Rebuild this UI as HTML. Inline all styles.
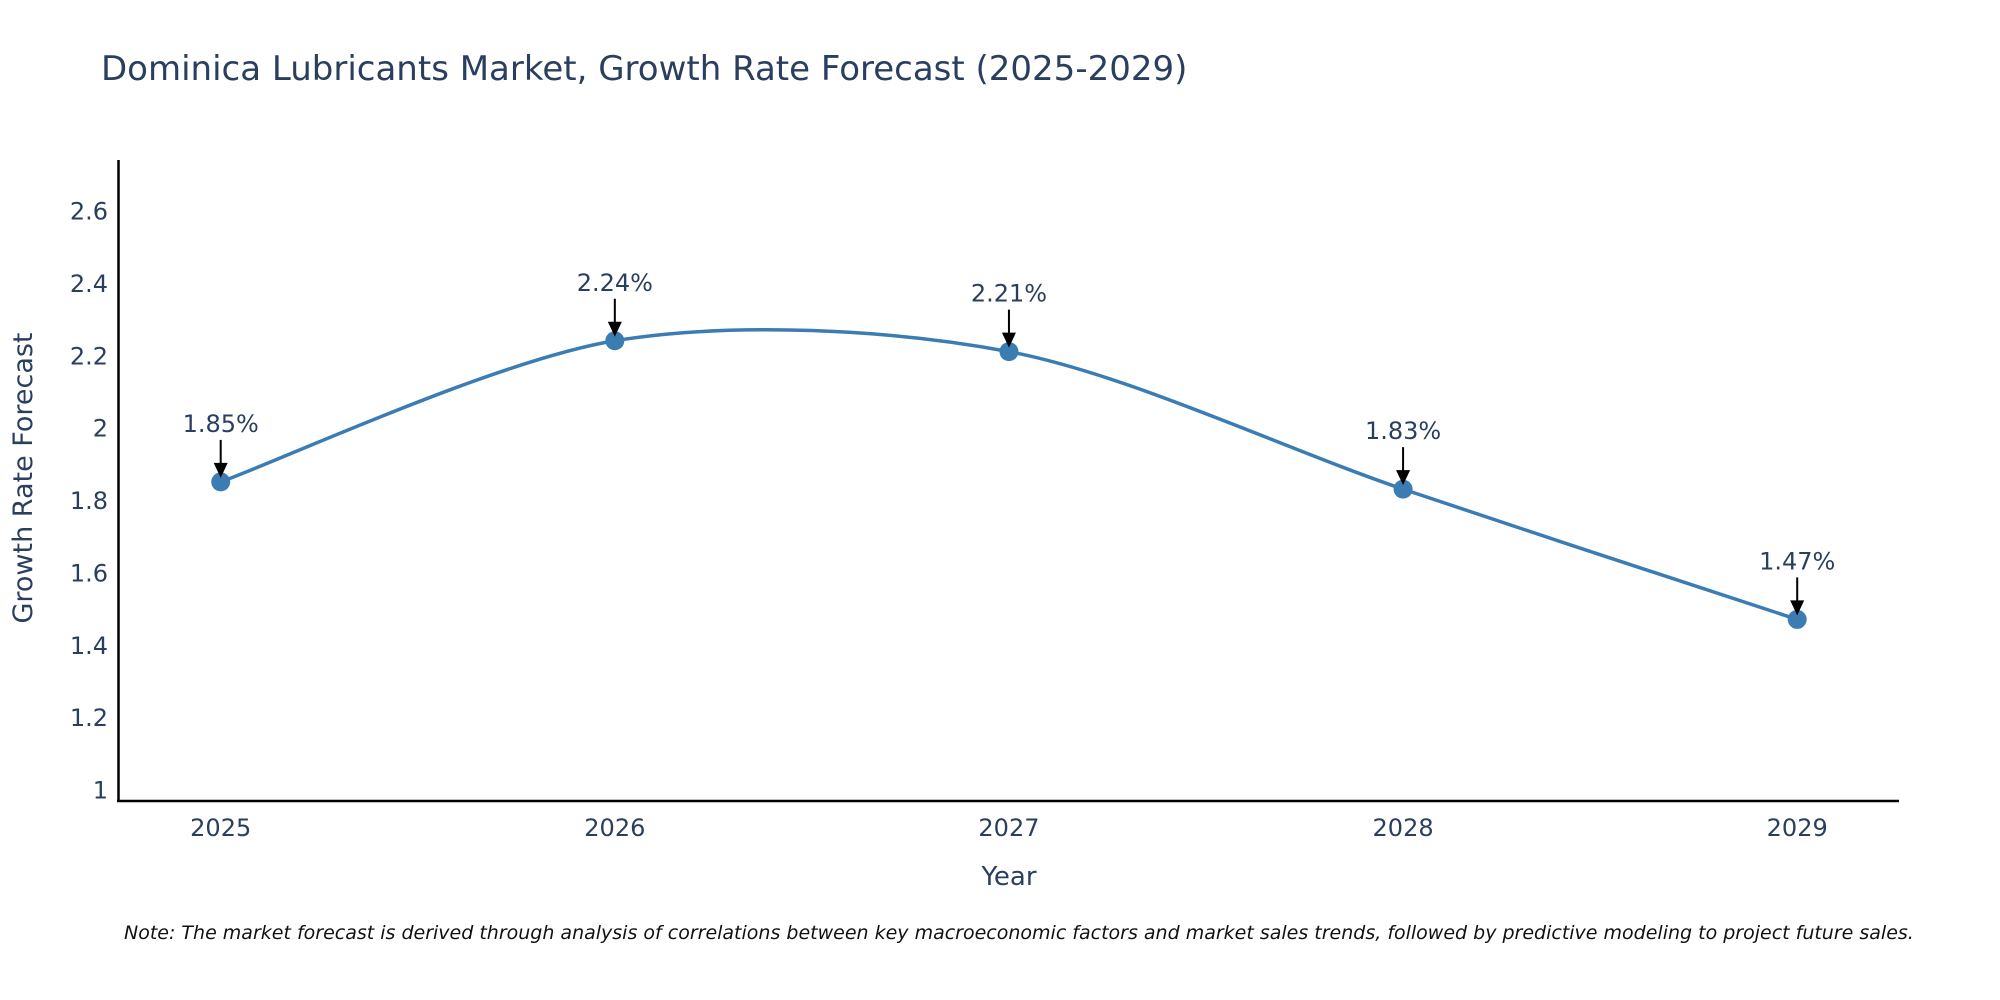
<!DOCTYPE html>
<html><head><meta charset="utf-8">
<style>
html,body{margin:0;padding:0;background:#fff;overflow:hidden;}
svg{display:block;font-family:"DejaVu Sans","Liberation Sans",sans-serif;}
</style></head>
<body>
<svg id="chart" width="2000" height="1000" viewBox="0 0 2000 1000">
<text x="101" y="80" font-size="34" fill="#2a3f5f">Dominica Lubricants Market, Growth Rate Forecast (2025-2029)</text>
<g id="yticks"></g>
<g id="xticks"></g>
<line x1="118.5" y1="160" x2="118.5" y2="802" stroke="#000" stroke-width="2.5"/>
<line x1="117" y1="801" x2="1899" y2="801" stroke="#000" stroke-width="2.5"/>
<path id="line" fill="none" stroke="#3b7db3" stroke-width="3.5"/>
<g id="points"></g>
<g id="annos"></g>
<text x="32" y="478" font-size="27" fill="#2a3f5f" text-anchor="middle" transform="rotate(-90 32 478)">Growth Rate Forecast</text>
<text x="1009" y="885" font-size="26" fill="#2a3f5f" text-anchor="middle">Year</text>
<text x="124" y="939" font-size="19" font-style="italic" fill="#111">Note: The market forecast is derived through analysis of correlations between key macroeconomic factors and market sales trends, followed by predictive modeling to project future sales.</text>
</svg>
<script>
const years = ["2025","2026","2027","2028","2029"];
const values = [1.85, 2.24, 2.21, 1.83, 1.47];
const labels = ["1.85%","2.24%","2.21%","1.83%","1.47%"];
const yTicks = [1, 1.2, 1.4, 1.6, 1.8, 2, 2.2, 2.4, 2.6];
const yTickLabels = ["1","1.2","1.4","1.6","1.8","2","2.2","2.4","2.6"];

const NS = "http://www.w3.org/2000/svg";
function yScale(v){ return 789.5 - (v - 1) * (789.5 - 210.5) / 1.6; }
function xScale(i){ return 220.7 + i * (1797.2 - 220.7) / (years.length - 1); }
function mk(tag, attrs, parent){ const e=document.createElementNS(NS,tag); for(const k in attrs) e.setAttribute(k, attrs[k]); parent.appendChild(e); return e; }

const yg=document.getElementById('yticks');
yTicks.forEach((t,i)=>{
  const e=mk('text',{x:108,y:yScale(t)+9,'font-size':24,fill:'#2a3f5f','text-anchor':'end'},yg);
  
  
  e.textContent=yTickLabels[i];
});
const xg=document.getElementById('xticks');
years.forEach((y,i)=>{
  const e=mk('text',{x:xScale(i),y:836,'font-size':24,fill:'#2a3f5f','text-anchor':'middle'},xg);
  
  
  e.textContent=y;
});

const pts=values.map((v,i)=>[xScale(i),yScale(v)]);
let d=`M${pts[0][0]},${pts[0][1]}`;
const s=0.15;
for(let i=0;i<pts.length-1;i++){
  const p0=pts[Math.max(0,i-1)],p1=pts[i],p2=pts[i+1],p3=pts[Math.min(pts.length-1,i+2)];
  const c1=[p1[0]+(p2[0]-p0[0])*s,p1[1]+(p2[1]-p0[1])*s];
  const c2=[p2[0]-(p3[0]-p1[0])*s,p2[1]-(p3[1]-p1[1])*s];
  d+=` C${c1[0]},${c1[1]} ${c2[0]},${c2[1]} ${p2[0]},${p2[1]}`;
}
document.getElementById('line').setAttribute('d',d);

const pg=document.getElementById('points');
const ag=document.getElementById('annos');
pts.forEach((p,i)=>{
  const c=mk('circle',{cx:p[0],cy:p[1],r:9.5,fill:'#3b7db3'},pg);
  
  
  const l=mk('line',{x1:p[0],y1:p[1]-42,x2:p[0],y2:p[1]-18,stroke:'#000','stroke-width':2},ag);
  
  
  const h=mk('polygon',{points:`${p[0]-7},${p[1]-19} ${p[0]+7},${p[1]-19} ${p[0]},${p[1]-4}`,fill:'#000'},ag);
  
  
  const t=mk('text',{x:p[0],y:p[1]-50,'font-size':24,fill:'#2a3f5f','text-anchor':'middle'},ag);
  
  
  t.textContent=labels[i];
});
</script>
</body></html>
